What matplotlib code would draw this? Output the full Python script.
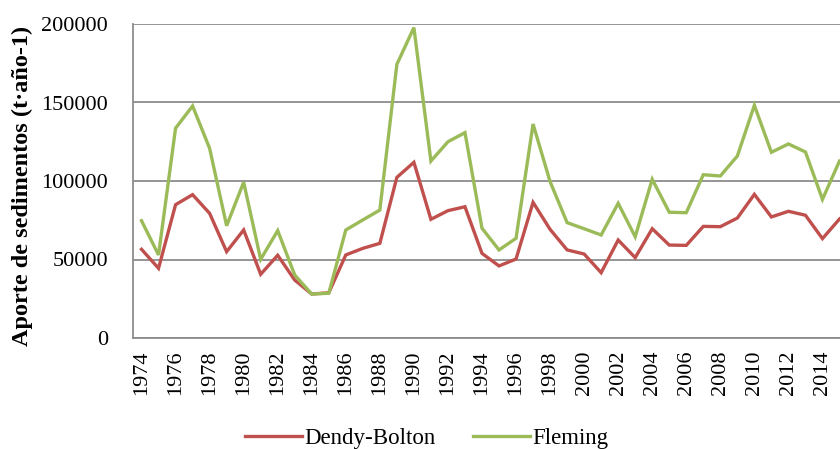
"""
Aporte de sedimentos anual: Dendy-Bolton vs Fleming (1974-2015).
"""

import matplotlib
matplotlib.use('Agg')
import matplotlib.pyplot as plt
import numpy as np

years = list(range(1974, 2016))

dendy_bolton = [56500, 44400, 84900, 91300, 79400, 55000, 68800, 40600, 52700, 36900,
                28000, 28800, 52900, 57100, 60300, 102300, 111900, 75600, 81100, 83600,
                53900, 45900, 50300, 86400, 69200, 56100, 53500, 41600, 62400, 51200,
                69600, 59200, 59000, 71100, 70900, 76400, 91500, 77100, 80700, 78200,
                63300, 75800]

fleming = [74700, 52900, 133600, 147800, 120800, 71500, 99200, 50100, 68400, 40100,
           28000, 28500, 68800, 75200, 81500, 174300, 197700, 112700, 125000, 130800,
           69900, 56100, 63500, 136300, 99600, 73500, 69600, 65600, 85800, 64500,
           101100, 80100, 79800, 104000, 103200, 115900, 148200, 118300, 123600, 118500,
           88300, 112700]

RED   = "#C0504D"
GREEN = "#9BBB59"
GRID  = "#8C8C8C"
FONT  = "Liberation Serif"

plt.rcParams['font.family'] = [FONT, 'DejaVu Serif']

fig = plt.figure(figsize=(8.4, 4.49), dpi=100)
# axes run past the right edge on purpose: the source image is cropped there
ax = fig.add_axes([133 / 840, 111 / 449, 715 / 840, 314 / 449])

x = np.arange(len(years))
ax.plot(x, dendy_bolton, color=RED, lw=2.4, label="Dendy-Bolton", solid_joinstyle='miter')
ax.plot(x, fleming, color=GREEN, lw=2.4, label="Fleming", solid_joinstyle='miter')

ax.set_xlim(-0.5, len(years) - 0.5)
ax.set_ylim(0, 200000)
ax.set_yticks([0, 50000, 100000, 150000, 200000])
ax.set_yticklabels(["0", "50000", "100000", "150000", "200000"], fontsize=16)
ax.set_xticks(x[::2])
ax.set_xticklabels([str(y) for y in years[::2]], rotation=90, fontsize=16)
ax.tick_params(axis='y', length=0, pad=18)
ax.tick_params(axis='x', length=0, pad=9)

ax.grid(axis='y', color=GRID, lw=1.3)
ax.set_axisbelow(True)
for side in ("top", "right"):
    ax.spines[side].set_visible(False)
for side in ("left", "bottom"):
    ax.spines[side].set_color(GRID)
    ax.spines[side].set_linewidth(1.3)

fig.text(22 / 840, 1 - 186 / 449, "Aporte de sedimentos (t·año-1)", rotation=90,
         ha='center', va='center', fontsize=17.5, fontweight='bold')

fig.legend(loc='center', bbox_to_anchor=(0.508, 0.024), ncol=2, frameon=False,
           fontsize=16.5, handlelength=2.5, columnspacing=1.6, handletextpad=0.1,
           borderpad=0.1)

plt.savefig("out.png", dpi=100)
plt.close()
